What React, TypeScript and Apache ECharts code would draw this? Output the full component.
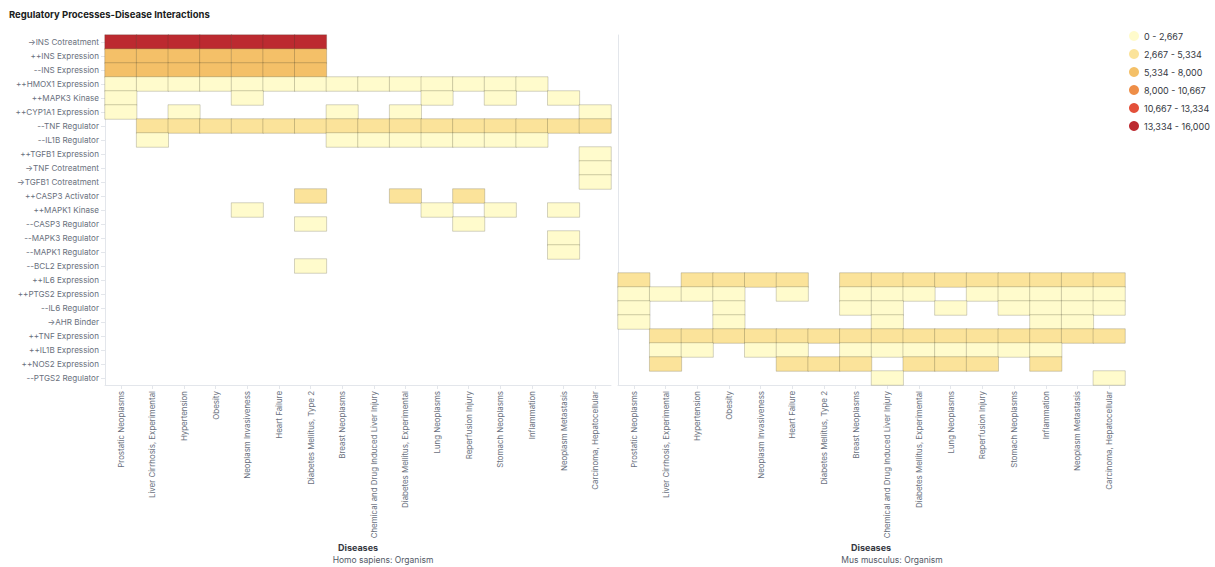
import React, { useEffect, useRef } from "react";
import * as echarts from "echarts";

const _ = null;

const processes: string[] = [
  "→INS Cotreatment",
  "++INS Expression",
  "--INS Expression",
  "++HMOX1 Expression",
  "++MAPK3 Kinase",
  "++CYP1A1 Expression",
  "--TNF Regulator",
  "--IL1B Regulator",
  "++TGFB1 Expression",
  "→TNF Cotreatment",
  "→TGFB1 Cotreatment",
  "++CASP3 Activator",
  "++MAPK1 Kinase",
  "--CASP3 Regulator",
  "--MAPK3 Regulator",
  "--MAPK1 Regulator",
  "--BCL2 Expression",
  "++IL6 Expression",
  "++PTGS2 Expression",
  "--IL6 Regulator",
  "→AHR Binder",
  "++TNF Expression",
  "++IL1B Expression",
  "++NOS2 Expression",
  "--PTGS2 Regulator",
];

const diseases: string[] = [
  "Prostatic Neoplasms",
  "Liver Cirrhosis, Experimental",
  "Hypertension",
  "Obesity",
  "Neoplasm Invasiveness",
  "Heart Failure",
  "Diabetes Mellitus, Type 2",
  "Breast Neoplasms",
  "Chemical and Drug Induced Liver Injury",
  "Diabetes Mellitus, Experimental",
  "Lung Neoplasms",
  "Reperfusion Injury",
  "Stomach Neoplasms",
  "Inflammation",
  "Neoplasm Metastasis",
  "Carcinoma, Hepatocellular",
];

// Homo sapiens: rows = processes, columns = diseases
const humanValues: (number | null)[][] = [
  [15760, 15420, 15180, 15020, 14900, 14760, 14650, _, _, _, _, _, _, _, _, _],
  [7420, 7300, 7210, 7100, 7020, 6940, 6880, _, _, _, _, _, _, _, _, _],
  [7380, 7260, 7180, 7060, 6990, 6900, 6850, _, _, _, _, _, _, _, _, _],
  [2100, 1980, 1900, 1850, 1790, 1720, 1680, 1600, 1540, 1480, 1420, 1380, 1320, 1260, _, _],
  [820, _, _, _, 760, _, _, _, _, _, 700, _, 660, _, 620, _],
  [900, _, 840, _, _, _, _, 780, _, 720, _, _, _, _, _, 680],
  [_, 3420, 3380, 3340, 3300, 3260, 3220, 3180, 3150, 3120, 3090, 3060, 3030, 3000, 2980, 2960],
  [_, 1500, _, _, _, _, _, 1450, 1400, 1360, 1320, 1280, 1240, 1200, _, _],
  [_, _, _, _, _, _, _, _, _, _, _, _, _, _, _, 640],
  [_, _, _, _, _, _, _, _, _, _, _, _, _, _, _, 620],
  [_, _, _, _, _, _, _, _, _, _, _, _, _, _, _, 600],
  [_, _, _, _, _, _, 2960, _, _, 2900, _, 2860, _, _, _, _],
  [_, _, _, _, 1100, _, _, _, _, _, 1060, _, 1020, _, 980, _],
  [_, _, _, _, _, _, 940, _, _, _, _, 900, _, _, _, _],
  [_, _, _, _, _, _, _, _, _, _, _, _, _, _, 860, _],
  [_, _, _, _, _, _, _, _, _, _, _, _, _, _, 840, _],
  [_, _, _, _, _, _, 820, _, _, _, _, _, _, _, _, _],
  [_, _, _, _, _, _, _, _, _, _, _, _, _, _, _, _],
  [_, _, _, _, _, _, _, _, _, _, _, _, _, _, _, _],
  [_, _, _, _, _, _, _, _, _, _, _, _, _, _, _, _],
  [_, _, _, _, _, _, _, _, _, _, _, _, _, _, _, _],
  [_, _, _, _, _, _, _, _, _, _, _, _, _, _, _, _],
  [_, _, _, _, _, _, _, _, _, _, _, _, _, _, _, _],
  [_, _, _, _, _, _, _, _, _, _, _, _, _, _, _, _],
  [_, _, _, _, _, _, _, _, _, _, _, _, _, _, _, _],
];

// Mus musculus: rows = processes, columns = diseases
const mouseValues: (number | null)[][] = [
  [_, _, _, _, _, _, _, _, _, _, _, _, _, _, _, _],
  [_, _, _, _, _, _, _, _, _, _, _, _, _, _, _, _],
  [_, _, _, _, _, _, _, _, _, _, _, _, _, _, _, _],
  [_, _, _, _, _, _, _, _, _, _, _, _, _, _, _, _],
  [_, _, _, _, _, _, _, _, _, _, _, _, _, _, _, _],
  [_, _, _, _, _, _, _, _, _, _, _, _, _, _, _, _],
  [_, _, _, _, _, _, _, _, _, _, _, _, _, _, _, _],
  [_, _, _, _, _, _, _, _, _, _, _, _, _, _, _, _],
  [_, _, _, _, _, _, _, _, _, _, _, _, _, _, _, _],
  [_, _, _, _, _, _, _, _, _, _, _, _, _, _, _, _],
  [_, _, _, _, _, _, _, _, _, _, _, _, _, _, _, _],
  [_, _, _, _, _, _, _, _, _, _, _, _, _, _, _, _],
  [_, _, _, _, _, _, _, _, _, _, _, _, _, _, _, _],
  [_, _, _, _, _, _, _, _, _, _, _, _, _, _, _, _],
  [_, _, _, _, _, _, _, _, _, _, _, _, _, _, _, _],
  [_, _, _, _, _, _, _, _, _, _, _, _, _, _, _, _],
  [_, _, _, _, _, _, _, _, _, _, _, _, _, _, _, _],
  [3300, _, 3250, 3200, 3150, 3120, _, 3100, 3080, 3060, 3040, 3020, 3000, 2980, 2960, 2940],
  [1800, 1700, 1650, 1600, _, 1500, _, 1460, 1420, 1380, _, 1340, 1300, 1260, 1220, 1180],
  [1400, _, _, 1350, _, _, _, 1300, 1250, _, 1200, _, 1150, 1100, 1050, 1000],
  [900, _, _, 880, _, _, _, _, 860, _, _, _, _, 840, 820, _],
  [_, 3500, 3460, 3420, 3380, 3340, 3300, 3260, 3220, 3180, 3140, 3100, 3060, 3020, 2990, 2970],
  [_, 1600, 1560, _, 1520, 1480, _, 1440, 1400, 1360, 1320, 1280, 1240, 1200, _, _],
  [_, 3000, _, _, _, 2960, 2940, 2920, _, 2900, 2880, 2860, _, 2840, _, _],
  [_, _, _, _, _, _, _, _, 700, _, _, _, _, _, _, 680],
];

const rangeLabels: string[] = [
  "0 - 2,667",
  "2,667 - 5,334",
  "5,334 - 8,000",
  "8,000 - 10,667",
  "10,667 - 13,334",
  "13,334 - 16,000",
];
const rangeBounds: number[] = [0, 2667, 5334, 8000, 10667, 13334, 16000];
const rangeColors: string[] = ["#FFFBCC", "#FBE39A", "#F4C068", "#EE8E48", "#E3503A", "#BC2A30"];

function toCells(matrix: (number | null)[][]): [number, number, number][] {
  const out: [number, number, number][] = [];
  matrix.forEach((row, r) =>
    row.forEach((v, c) => {
      if (v !== null) out.push([c, r, v]);
    })
  );
  return out;
}

const FONT = "Inter, 'Noto Sans', sans-serif";
const LABEL_COLOR = "#69707d";
const AXIS_COLOR = "#e3e6eb";

export default function App() {
  const ref = useRef<HTMLDivElement>(null);

  useEffect(() => {
    if (!ref.current) return;
    const chart = echarts.init(ref.current, undefined, { renderer: "svg" });

    const xAxisBase = (gridIndex: number) => ({
      type: "category",
      gridIndex,
      data: diseases,
      axisLine: { show: true, lineStyle: { color: AXIS_COLOR } },
      axisTick: { show: true, alignWithLabel: true, length: 4, lineStyle: { color: AXIS_COLOR } },
      axisLabel: {
        rotate: 90,
        interval: 0,
        fontSize: 7.9,
        color: LABEL_COLOR,
        fontFamily: FONT,
        margin: 6,
      },
      splitLine: { show: false },
      splitArea: { show: false },
    });

    const option: any = {
      animation: false,
      backgroundColor: "#ffffff",
      textStyle: { fontFamily: FONT },
      title: {
        text: "Regulatory Processes-Disease Interactions",
        left: 4,
        top: 4,
        textStyle: { fontSize: 9.5, fontWeight: "bold", color: "#1a1c21", fontFamily: FONT },
      },
      grid: [
        { left: 105, top: 35, width: 506, height: 350 },
        { left: 618, top: 35, width: 507, height: 350 },
      ],
      xAxis: [xAxisBase(0), xAxisBase(1)],
      yAxis: [
        {
          type: "category",
          gridIndex: 0,
          inverse: true,
          data: processes,
          axisLine: { show: true, lineStyle: { color: AXIS_COLOR } },
          axisTick: { show: true, alignWithLabel: true, length: 4, lineStyle: { color: AXIS_COLOR } },
          axisLabel: { fontSize: 8.1, color: LABEL_COLOR, fontFamily: FONT, margin: 6, interval: 0 },
          splitLine: { show: false },
        },
        {
          type: "category",
          gridIndex: 1,
          inverse: true,
          data: processes,
          axisLine: { show: true, lineStyle: { color: AXIS_COLOR } },
          axisTick: { show: false },
          axisLabel: { show: false },
          splitLine: { show: false },
        },
      ],
      visualMap: {
        type: "piecewise",
        seriesIndex: [0, 1],
        orient: "vertical",
        inverse: true,
        align: "left",
        left: 1129,
        top: 31,
        padding: 0,
        itemWidth: 10,
        itemHeight: 10,
        itemGap: 8,
        itemSymbol: "circle",
        textGap: 5,
        showLabel: true,
        textStyle: { fontSize: 9, color: "#343741", fontFamily: FONT },
        pieces: rangeLabels.map((label, i) => ({
          gte: rangeBounds[i],
          lt: rangeBounds[i + 1],
          label,
          color: rangeColors[i],
        })),
      },
      series: [
        {
          type: "heatmap",
          xAxisIndex: 0,
          yAxisIndex: 0,
          data: toCells(humanValues),
          itemStyle: { borderColor: "rgba(60,60,40,0.22)", borderWidth: 1 },
          emphasis: { disabled: true },
        },
        {
          type: "heatmap",
          xAxisIndex: 1,
          yAxisIndex: 1,
          data: toCells(mouseValues),
          itemStyle: { borderColor: "rgba(60,60,40,0.22)", borderWidth: 1 },
          emphasis: { disabled: true },
        },
      ],
      graphic: [
        {
          type: "text",
          x: 358,
          y: 547,
          style: {
            text: "Diseases",
            font: `bold 9px ${FONT}`,
            fill: "#343741",
            align: "center",
            verticalAlign: "middle",
          },
        },
        {
          type: "text",
          x: 383,
          y: 560,
          style: {
            text: "Homo sapiens: Organism",
            font: `8.5px ${FONT}`,
            fill: "#535966",
            align: "center",
            verticalAlign: "middle",
          },
        },
        {
          type: "text",
          x: 871,
          y: 547,
          style: {
            text: "Diseases",
            font: `bold 9px ${FONT}`,
            fill: "#343741",
            align: "center",
            verticalAlign: "middle",
          },
        },
        {
          type: "text",
          x: 892,
          y: 560,
          style: {
            text: "Mus musculus: Organism",
            font: `8.5px ${FONT}`,
            fill: "#535966",
            align: "center",
            verticalAlign: "middle",
          },
        },
      ],
    };

    chart.setOption(option);
    return () => chart.dispose();
  }, []);

  return (
    <div
      ref={ref}
      style={{ position: "fixed", left: 0, top: 0, width: "1215px", height: "567px", background: "#fff" }}
    />
  );
}
